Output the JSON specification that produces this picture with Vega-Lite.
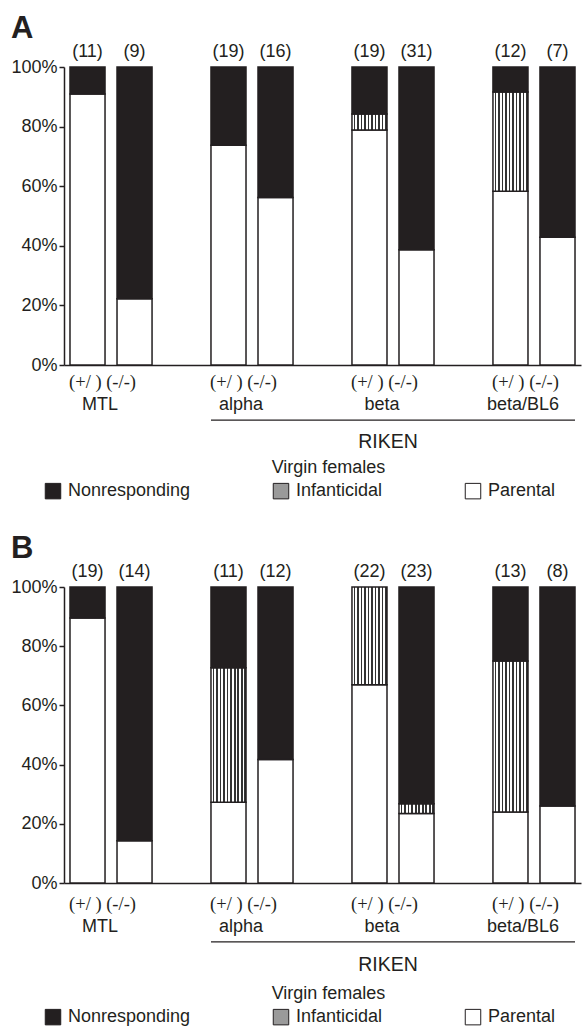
{
 "$schema": "https://vega.github.io/schema/vega-lite/v6.json",
 "padding": {"left": 10, "top": 13, "right": 2, "bottom": 0},
 "config": {
  "font": "Liberation Sans",
  "view": {"stroke": null},
  "title": {"fontSize": 31, "fontWeight": "bold", "anchor": "start", "frame": "bounds", "offset": -2, "color": "#231f20", "font": "Liberation Sans"},
  "axis": {"labelColor": "#231f20", "domainColor": "#231f20", "tickColor": "#231f20", "titleColor": "#231f20", "labelFont": "Liberation Sans", "titleFont": "Liberation Sans"}
 },
 "datasets": {
  "d": [
   {"panel":"A","strain":"MTL","geno":"+/-","resp":"Parental","pct":90.9,"k":1,"n":"(11)"},
   {"panel":"A","strain":"MTL","geno":"+/-","resp":"Nonresponding","pct":9.1,"k":3,"n":"(11)"},
   {"panel":"A","strain":"MTL","geno":"-/-","resp":"Parental","pct":22.2,"k":1,"n":"(9)"},
   {"panel":"A","strain":"MTL","geno":"-/-","resp":"Nonresponding","pct":77.8,"k":3,"n":"(9)"},
   {"panel":"A","strain":"alpha","geno":"+/-","resp":"Parental","pct":73.7,"k":1,"n":"(19)"},
   {"panel":"A","strain":"alpha","geno":"+/-","resp":"Nonresponding","pct":26.3,"k":3,"n":"(19)"},
   {"panel":"A","strain":"alpha","geno":"-/-","resp":"Parental","pct":56.2,"k":1,"n":"(16)"},
   {"panel":"A","strain":"alpha","geno":"-/-","resp":"Nonresponding","pct":43.8,"k":3,"n":"(16)"},
   {"panel":"A","strain":"beta","geno":"+/-","resp":"Parental","pct":78.9,"k":1,"n":"(19)"},
   {"panel":"A","strain":"beta","geno":"+/-","resp":"Infanticidal","pct":5.3,"k":2,"n":"(19)"},
   {"panel":"A","strain":"beta","geno":"+/-","resp":"Nonresponding","pct":15.8,"k":3,"n":"(19)"},
   {"panel":"A","strain":"beta","geno":"-/-","resp":"Parental","pct":38.7,"k":1,"n":"(31)"},
   {"panel":"A","strain":"beta","geno":"-/-","resp":"Nonresponding","pct":61.3,"k":3,"n":"(31)"},
   {"panel":"A","strain":"beta/BL6","geno":"+/-","resp":"Parental","pct":58.3,"k":1,"n":"(12)"},
   {"panel":"A","strain":"beta/BL6","geno":"+/-","resp":"Infanticidal","pct":33.3,"k":2,"n":"(12)"},
   {"panel":"A","strain":"beta/BL6","geno":"+/-","resp":"Nonresponding","pct":8.4,"k":3,"n":"(12)"},
   {"panel":"A","strain":"beta/BL6","geno":"-/-","resp":"Parental","pct":42.9,"k":1,"n":"(7)"},
   {"panel":"A","strain":"beta/BL6","geno":"-/-","resp":"Nonresponding","pct":57.1,"k":3,"n":"(7)"},
   {"panel":"B","strain":"MTL","geno":"+/-","resp":"Parental","pct":89.5,"k":1,"n":"(19)"},
   {"panel":"B","strain":"MTL","geno":"+/-","resp":"Nonresponding","pct":10.5,"k":3,"n":"(19)"},
   {"panel":"B","strain":"MTL","geno":"-/-","resp":"Parental","pct":14.3,"k":1,"n":"(14)"},
   {"panel":"B","strain":"MTL","geno":"-/-","resp":"Nonresponding","pct":85.7,"k":3,"n":"(14)"},
   {"panel":"B","strain":"alpha","geno":"+/-","resp":"Parental","pct":27.3,"k":1,"n":"(11)"},
   {"panel":"B","strain":"alpha","geno":"+/-","resp":"Infanticidal","pct":45.4,"k":2,"n":"(11)"},
   {"panel":"B","strain":"alpha","geno":"+/-","resp":"Nonresponding","pct":27.3,"k":3,"n":"(11)"},
   {"panel":"B","strain":"alpha","geno":"-/-","resp":"Parental","pct":41.7,"k":1,"n":"(12)"},
   {"panel":"B","strain":"alpha","geno":"-/-","resp":"Nonresponding","pct":58.3,"k":3,"n":"(12)"},
   {"panel":"B","strain":"beta","geno":"+/-","resp":"Parental","pct":67,"k":1,"n":"(22)"},
   {"panel":"B","strain":"beta","geno":"+/-","resp":"Infanticidal","pct":33,"k":2,"n":"(22)"},
   {"panel":"B","strain":"beta","geno":"-/-","resp":"Parental","pct":23.5,"k":1,"n":"(23)"},
   {"panel":"B","strain":"beta","geno":"-/-","resp":"Infanticidal","pct":3.3,"k":2,"n":"(23)"},
   {"panel":"B","strain":"beta","geno":"-/-","resp":"Nonresponding","pct":73.2,"k":3,"n":"(23)"},
   {"panel":"B","strain":"beta/BL6","geno":"+/-","resp":"Parental","pct":24,"k":1,"n":"(13)"},
   {"panel":"B","strain":"beta/BL6","geno":"+/-","resp":"Infanticidal","pct":51,"k":2,"n":"(13)"},
   {"panel":"B","strain":"beta/BL6","geno":"+/-","resp":"Nonresponding","pct":25,"k":3,"n":"(13)"},
   {"panel":"B","strain":"beta/BL6","geno":"-/-","resp":"Parental","pct":26,"k":1,"n":"(8)"},
   {"panel":"B","strain":"beta/BL6","geno":"-/-","resp":"Nonresponding","pct":74,"k":3,"n":"(8)"}
  ]
 },
 "data": {"name": "d"},
 "spacing": 32,
 "resolve": {"scale": {"fill": "independent"}, "legend": {"fill": "independent"}},
 "vconcat": [
  {
   "title": "A",
   "width": 517, "height": 298,
   "transform": [{"filter": "datum.panel === 'A'"}],
   "encoding": {
    "x": {"field": "strain", "type": "nominal",
     "scale": {"domain": ["MTL","alpha","beta","beta/BL6"], "paddingInner": 0.418, "paddingOuter": 0.0425},
     "axis": {"title": "Virgin females", "labelAngle": 0, "labelFontSize": 18, "labelPadding": 30, "labelOffset": -11, "ticks": false, "domainWidth": 1.5, "titleFontSize": 18, "titleFontWeight": "normal", "titlePadding": 45, "titleX": 264}}
   },
   "layer": [
    {"mark": {"type": "bar", "stroke": "#231f20", "strokeWidth": 1.5},
     "encoding": {
      "xOffset": {"field": "geno", "type": "nominal", "sort": ["+/-","-/-"], "scale": {"paddingInner": 0.255, "paddingOuter": 0}},
      "y": {"field": "pct", "type": "quantitative", "stack": "zero", "scale": {"domain": [0,100], "nice": false},
       "axis": {"title": null, "values": [0,20,40,60,80,100], "labelExpr": "datum.value + '%'", "labelFontSize": 18, "tickSize": 5, "labelPadding": 2, "grid": false, "domainWidth": 1.5, "tickWidth": 1.5}},
      "fill": {
       "condition": {"test": "datum.resp === 'Infanticidal'",
        "value": {"gradient": "linear", "x1": 0, "y1": 0, "x2": 1, "y2": 0, "stops": [
          {"offset":0,"color":"#ffffff"},{"offset":0.055,"color":"#ffffff"},{"offset":0.055,"color":"#333333"},{"offset":0.1,"color":"#333333"},
          {"offset":0.1,"color":"#ffffff"},{"offset":0.155,"color":"#ffffff"},{"offset":0.155,"color":"#333333"},{"offset":0.2,"color":"#333333"},
          {"offset":0.2,"color":"#ffffff"},{"offset":0.255,"color":"#ffffff"},{"offset":0.255,"color":"#333333"},{"offset":0.3,"color":"#333333"},
          {"offset":0.3,"color":"#ffffff"},{"offset":0.355,"color":"#ffffff"},{"offset":0.355,"color":"#333333"},{"offset":0.4,"color":"#333333"},
          {"offset":0.4,"color":"#ffffff"},{"offset":0.455,"color":"#ffffff"},{"offset":0.455,"color":"#333333"},{"offset":0.5,"color":"#333333"},
          {"offset":0.5,"color":"#ffffff"},{"offset":0.555,"color":"#ffffff"},{"offset":0.555,"color":"#333333"},{"offset":0.6,"color":"#333333"},
          {"offset":0.6,"color":"#ffffff"},{"offset":0.655,"color":"#ffffff"},{"offset":0.655,"color":"#333333"},{"offset":0.7,"color":"#333333"},
          {"offset":0.7,"color":"#ffffff"},{"offset":0.755,"color":"#ffffff"},{"offset":0.755,"color":"#333333"},{"offset":0.8,"color":"#333333"},
          {"offset":0.8,"color":"#ffffff"},{"offset":0.855,"color":"#ffffff"},{"offset":0.855,"color":"#333333"},{"offset":0.9,"color":"#333333"},
          {"offset":0.9,"color":"#ffffff"},{"offset":0.955,"color":"#ffffff"},{"offset":0.955,"color":"#333333"},{"offset":1,"color":"#333333"}
         ]}},
       "field": "resp", "type": "nominal",
       "scale": {"domain": ["Nonresponding","Infanticidal","Parental"], "range": ["#231f20", "#9a9a9a", "#ffffff"]},
       "legend": {"title": null, "orient": "none", "direction": "horizontal", "legendX": -20, "legendY": 415, "symbolType": "square", "symbolSize": 240, "symbolStrokeColor": "#231f20", "symbolStrokeWidth": 1, "labelFontSize": 18, "labelOffset": 6, "columnPadding": 80, "labelColor": "#231f20", "labelFont": "Liberation Sans"}},
      "order": {"field": "k", "type": "quantitative"}
     }},
    {"transform": [{"filter": "datum.resp === 'Parental'"}],
     "mark": {"type": "text", "fontSize": 18, "baseline": "bottom", "dy": -6, "color": "#231f20"},
     "encoding": {
      "xOffset": {"field": "geno", "type": "nominal", "sort": ["+/-","-/-"], "scale": {"paddingInner": 0.255, "paddingOuter": 0}},
      "y": {"datum": 100},
      "text": {"field": "n", "type": "nominal"}}},
    {"transform": [{"filter": "datum.resp === 'Parental' && datum.geno === '+/-'"}],
     "mark": {"type": "text", "font": "Liberation Serif", "fontSize": 18.5, "baseline": "middle", "dy": 17, "dx": -8.5, "color": "#231f20"},
     "encoding": {"y": {"datum": 0}, "text": {"value": "(+/ ) (-/-)"}}},
    {"transform": [{"filter": "datum.resp === 'Parental' && datum.geno === '+/-' && datum.strain === 'beta'"}],
     "mark": {"type": "rule", "stroke": "#231f20", "strokeWidth": 1.3},
     "encoding": {"x": {"datum": "alpha", "bandPosition": 0}, "x2": {"datum": "beta/BL6", "bandPosition": 1}, "y": {"datum": -18.5}}},
    {"transform": [{"filter": "datum.resp === 'Parental' && datum.geno === '+/-' && datum.strain === 'beta'"}],
     "mark": {"type": "text", "fontSize": 19.5, "baseline": "middle", "dy": 77, "dx": -5, "color": "#231f20"},
     "encoding": {"x": {"datum": "beta"}, "y": {"datum": 0}, "text": {"value": "RIKEN"}}}
   ]
  },
  {
   "title": "B",
   "width": 517, "height": 296,
   "transform": [{"filter": "datum.panel === 'B'"}],
   "encoding": {
    "x": {"field": "strain", "type": "nominal",
     "scale": {"domain": ["MTL","alpha","beta","beta/BL6"], "paddingInner": 0.418, "paddingOuter": 0.0425},
     "axis": {"title": "Virgin females", "labelAngle": 0, "labelFontSize": 18, "labelPadding": 34, "labelOffset": -11, "ticks": false, "domainWidth": 1.5, "titleFontSize": 18, "titleFontWeight": "normal", "titlePadding": 49, "titleX": 264}}
   },
   "layer": [
    {"mark": {"type": "bar", "stroke": "#231f20", "strokeWidth": 1.5},
     "encoding": {
      "xOffset": {"field": "geno", "type": "nominal", "sort": ["+/-","-/-"], "scale": {"paddingInner": 0.255, "paddingOuter": 0}},
      "y": {"field": "pct", "type": "quantitative", "stack": "zero", "scale": {"domain": [0,100], "nice": false},
       "axis": {"title": null, "values": [0,20,40,60,80,100], "labelExpr": "datum.value + '%'", "labelFontSize": 18, "tickSize": 5, "labelPadding": 2, "grid": false, "domainWidth": 1.5, "tickWidth": 1.5}},
      "fill": {
       "condition": {"test": "datum.resp === 'Infanticidal'",
        "value": {"gradient": "linear", "x1": 0, "y1": 0, "x2": 1, "y2": 0, "stops": [
          {"offset":0,"color":"#ffffff"},{"offset":0.055,"color":"#ffffff"},{"offset":0.055,"color":"#333333"},{"offset":0.1,"color":"#333333"},
          {"offset":0.1,"color":"#ffffff"},{"offset":0.155,"color":"#ffffff"},{"offset":0.155,"color":"#333333"},{"offset":0.2,"color":"#333333"},
          {"offset":0.2,"color":"#ffffff"},{"offset":0.255,"color":"#ffffff"},{"offset":0.255,"color":"#333333"},{"offset":0.3,"color":"#333333"},
          {"offset":0.3,"color":"#ffffff"},{"offset":0.355,"color":"#ffffff"},{"offset":0.355,"color":"#333333"},{"offset":0.4,"color":"#333333"},
          {"offset":0.4,"color":"#ffffff"},{"offset":0.455,"color":"#ffffff"},{"offset":0.455,"color":"#333333"},{"offset":0.5,"color":"#333333"},
          {"offset":0.5,"color":"#ffffff"},{"offset":0.555,"color":"#ffffff"},{"offset":0.555,"color":"#333333"},{"offset":0.6,"color":"#333333"},
          {"offset":0.6,"color":"#ffffff"},{"offset":0.655,"color":"#ffffff"},{"offset":0.655,"color":"#333333"},{"offset":0.7,"color":"#333333"},
          {"offset":0.7,"color":"#ffffff"},{"offset":0.755,"color":"#ffffff"},{"offset":0.755,"color":"#333333"},{"offset":0.8,"color":"#333333"},
          {"offset":0.8,"color":"#ffffff"},{"offset":0.855,"color":"#ffffff"},{"offset":0.855,"color":"#333333"},{"offset":0.9,"color":"#333333"},
          {"offset":0.9,"color":"#ffffff"},{"offset":0.955,"color":"#ffffff"},{"offset":0.955,"color":"#333333"},{"offset":1,"color":"#333333"}
         ]}},
       "field": "resp", "type": "nominal",
       "scale": {"domain": ["Nonresponding","Infanticidal","Parental"], "range": ["#231f20", "#9a9a9a", "#ffffff"]},
       "legend": {"title": null, "orient": "none", "direction": "horizontal", "legendX": -20, "legendY": 421, "symbolType": "square", "symbolSize": 240, "symbolStrokeColor": "#231f20", "symbolStrokeWidth": 1, "labelFontSize": 18, "labelOffset": 6, "columnPadding": 80, "labelColor": "#231f20", "labelFont": "Liberation Sans"}},
      "order": {"field": "k", "type": "quantitative"}
     }},
    {"transform": [{"filter": "datum.resp === 'Parental'"}],
     "mark": {"type": "text", "fontSize": 18, "baseline": "bottom", "dy": -6, "color": "#231f20"},
     "encoding": {
      "xOffset": {"field": "geno", "type": "nominal", "sort": ["+/-","-/-"], "scale": {"paddingInner": 0.255, "paddingOuter": 0}},
      "y": {"datum": 100},
      "text": {"field": "n", "type": "nominal"}}},
    {"transform": [{"filter": "datum.resp === 'Parental' && datum.geno === '+/-'"}],
     "mark": {"type": "text", "font": "Liberation Serif", "fontSize": 18.5, "baseline": "middle", "dy": 21, "dx": -8.5, "color": "#231f20"},
     "encoding": {"y": {"datum": 0}, "text": {"value": "(+/ ) (-/-)"}}},
    {"transform": [{"filter": "datum.resp === 'Parental' && datum.geno === '+/-' && datum.strain === 'beta'"}],
     "mark": {"type": "rule", "stroke": "#231f20", "strokeWidth": 1.3},
     "encoding": {"x": {"datum": "alpha", "bandPosition": 0}, "x2": {"datum": "beta/BL6", "bandPosition": 1}, "y": {"datum": -19.9}}},
    {"transform": [{"filter": "datum.resp === 'Parental' && datum.geno === '+/-' && datum.strain === 'beta'"}],
     "mark": {"type": "text", "fontSize": 19.5, "baseline": "middle", "dy": 82, "dx": -5, "color": "#231f20"},
     "encoding": {"x": {"datum": "beta"}, "y": {"datum": 0}, "text": {"value": "RIKEN"}}}
   ]
  }
 ]
}
